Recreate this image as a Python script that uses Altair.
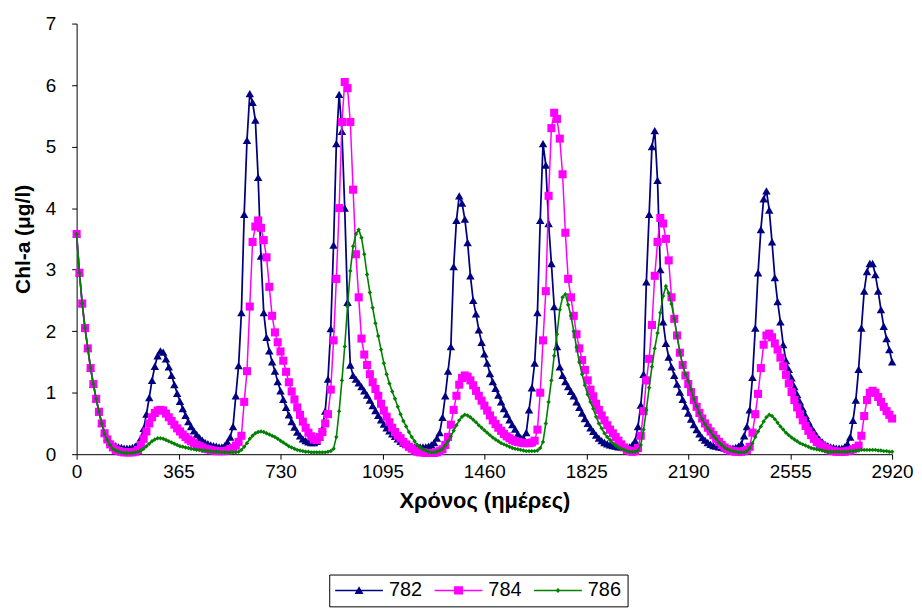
import altair as alt
import pandas as pd

# sampling grid of the read-off values (every 10 days)
DAYS = list(range(0, 2921, 10))

S782 = [
    3.58, 2.95, 2.45, 2.05, 1.72, 1.40, 1.14, 0.90, 0.69, 0.50,
    0.36, 0.27, 0.20, 0.16, 0.14, 0.12, 0.11, 0.10, 0.10, 0.10,
    0.11, 0.13, 0.17, 0.26, 0.42, 0.65, 0.92, 1.20, 1.43, 1.60,
    1.68, 1.66, 1.55, 1.42, 1.28, 1.13, 0.99, 0.86, 0.74, 0.63,
    0.53, 0.45, 0.38, 0.32, 0.27, 0.23, 0.19, 0.17, 0.15, 0.14,
    0.13, 0.12, 0.12, 0.14, 0.20, 0.28, 0.45, 0.95, 1.44, 2.30,
    3.90, 5.10, 5.86, 5.72, 5.43, 4.50, 3.22, 2.30, 1.90, 1.68,
    1.50, 1.35, 1.18, 1.03, 0.89, 0.76, 0.64, 0.53, 0.44, 0.36,
    0.30, 0.25, 0.22, 0.20, 0.19, 0.19, 0.21, 0.28, 0.42, 0.70,
    1.22, 2.04, 3.40, 5.05, 5.85, 5.25, 4.00, 2.47, 1.45, 1.28,
    1.22, 1.16, 1.10, 1.03, 0.96, 0.88, 0.79, 0.71, 0.63, 0.56,
    0.49, 0.43, 0.38, 0.33, 0.29, 0.25, 0.21, 0.18, 0.16, 0.14,
    0.13, 0.12, 0.12, 0.12, 0.12, 0.12, 0.13, 0.15, 0.19, 0.26,
    0.35, 0.60, 0.95, 1.35, 1.75, 3.05, 3.80, 4.20, 4.08, 3.82,
    3.44, 2.90, 2.50, 2.28, 2.02, 1.82, 1.63, 1.48, 1.31, 1.18,
    1.07, 0.96, 0.85, 0.74, 0.65, 0.56, 0.48, 0.41, 0.33, 0.27,
    0.26, 0.35, 0.72, 1.08, 1.48, 2.30, 3.80, 5.05, 4.70, 3.75,
    3.10, 2.40, 1.75, 1.42, 1.28, 1.18, 1.10, 1.02, 0.95, 0.85,
    0.76, 0.67, 0.58, 0.50, 0.43, 0.37, 0.31, 0.26, 0.22, 0.19,
    0.17, 0.15, 0.14, 0.13, 0.12, 0.12, 0.11, 0.11, 0.12, 0.15,
    0.22, 0.45, 0.80, 1.30, 2.80, 3.90, 5.00, 5.26, 4.45, 3.00,
    2.15, 1.80, 1.58, 1.42, 1.28, 1.14, 1.01, 0.89, 0.78, 0.67,
    0.57, 0.48, 0.40, 0.33, 0.27, 0.23, 0.19, 0.16, 0.14, 0.13,
    0.12, 0.11, 0.10, 0.10, 0.10, 0.10, 0.11, 0.13, 0.17, 0.30,
    0.45, 0.72, 1.25, 2.05, 2.95, 3.65, 4.15, 4.28, 3.97, 3.45,
    2.87, 2.48, 2.15, 1.78, 1.52, 1.38, 1.24, 1.10, 0.97, 0.85,
    0.74, 0.63, 0.53, 0.44, 0.37, 0.30, 0.24, 0.20, 0.16, 0.14,
    0.12, 0.11, 0.10, 0.10, 0.10, 0.12, 0.17, 0.28, 0.55, 0.88,
    1.38, 2.05, 2.65, 2.97, 3.10, 3.10, 2.92, 2.65, 2.35, 2.08,
    1.88, 1.70, 1.50,
]

S784 = [
    3.58, 2.95, 2.45, 2.05, 1.72, 1.40, 1.14, 0.90, 0.69, 0.50,
    0.34, 0.24, 0.16, 0.11, 0.07, 0.05, 0.04, 0.03, 0.03, 0.03,
    0.03, 0.04, 0.07, 0.15, 0.25, 0.37, 0.50, 0.60, 0.67, 0.71,
    0.72, 0.71, 0.66, 0.60, 0.54, 0.48, 0.42, 0.37, 0.32, 0.28,
    0.24, 0.21, 0.18, 0.15, 0.13, 0.11, 0.09, 0.08, 0.07, 0.06,
    0.05, 0.05, 0.05, 0.05, 0.06, 0.08, 0.10, 0.14, 0.20, 0.30,
    0.85, 1.35, 2.40, 3.45, 3.70, 3.80, 3.68, 3.48, 3.20, 2.72,
    2.25, 1.98, 1.82, 1.67, 1.52, 1.34, 1.17, 1.02, 0.89, 0.76,
    0.64, 0.53, 0.43, 0.35, 0.29, 0.24, 0.23, 0.28, 0.36, 0.50,
    0.65, 1.05, 1.85, 2.85, 4.00, 5.40, 6.05, 5.95, 5.40, 4.30,
    3.25, 2.55, 1.88, 1.62, 1.45, 1.30, 1.17, 1.06, 0.95, 0.82,
    0.71, 0.61, 0.52, 0.43, 0.36, 0.30, 0.26, 0.20, 0.16, 0.12,
    0.09, 0.06, 0.04, 0.03, 0.03, 0.02, 0.02, 0.02, 0.02, 0.03,
    0.05, 0.08, 0.15, 0.28, 0.48, 0.72, 0.95, 1.13, 1.24, 1.28,
    1.26, 1.20, 1.12, 1.03, 0.95, 0.87, 0.79, 0.71, 0.63, 0.55,
    0.49, 0.43, 0.38, 0.33, 0.29, 0.26, 0.23, 0.21, 0.20, 0.19,
    0.18, 0.18, 0.18, 0.19, 0.22, 0.40, 1.00, 1.85, 2.65, 4.20,
    5.30, 5.55, 5.45, 5.13, 4.55, 3.60, 2.85, 2.55, 2.25, 1.95,
    1.72, 1.53, 1.37, 1.20, 1.05, 0.94, 0.82, 0.72, 0.63, 0.55,
    0.47, 0.40, 0.34, 0.28, 0.22, 0.16, 0.11, 0.07, 0.05, 0.04,
    0.05, 0.10, 0.30, 0.70, 1.20, 1.55, 2.10, 2.90, 3.45, 3.84,
    3.75, 3.50, 3.15, 2.55, 2.20, 1.93, 1.65, 1.45, 1.28, 1.14,
    1.01, 0.88, 0.77, 0.67, 0.58, 0.50, 0.43, 0.37, 0.31, 0.25,
    0.20, 0.15, 0.11, 0.08, 0.06, 0.05, 0.04, 0.04, 0.04, 0.05,
    0.07, 0.12, 0.35, 0.65, 0.98, 1.40, 1.78, 1.93, 1.96, 1.90,
    1.80, 1.70, 1.57, 1.43, 1.29, 1.15, 1.01, 0.88, 0.76, 0.65,
    0.55, 0.46, 0.38, 0.31, 0.25, 0.20, 0.16, 0.13, 0.10, 0.08,
    0.06, 0.05, 0.04, 0.04, 0.04, 0.04, 0.05, 0.06, 0.08, 0.10,
    0.14, 0.30, 0.62, 0.88, 1.00, 1.03, 1.00, 0.93, 0.85, 0.77,
    0.70, 0.64, 0.58,
]

S786 = [
    3.58, 2.95, 2.45, 2.05, 1.72, 1.40, 1.14, 0.90, 0.69, 0.50,
    0.33, 0.23, 0.15, 0.09, 0.06, 0.04, 0.03, 0.02, 0.02, 0.02,
    0.02, 0.03, 0.04, 0.06, 0.09, 0.13, 0.17, 0.21, 0.24, 0.26,
    0.26, 0.25, 0.23, 0.21, 0.19, 0.17, 0.15, 0.13, 0.12, 0.11,
    0.10, 0.09, 0.08, 0.07, 0.07, 0.06, 0.06, 0.05, 0.05, 0.04,
    0.04, 0.04, 0.03, 0.03, 0.03, 0.03, 0.03, 0.03, 0.04, 0.07,
    0.12, 0.18, 0.25, 0.30, 0.34, 0.36, 0.37, 0.36, 0.34, 0.32,
    0.30, 0.28, 0.25, 0.22, 0.19, 0.16, 0.13, 0.11, 0.09, 0.07,
    0.06, 0.05, 0.04, 0.04, 0.03, 0.03, 0.03, 0.03, 0.03, 0.03,
    0.04, 0.05, 0.09, 0.28, 0.70, 1.20, 1.75, 2.40, 2.98, 3.38,
    3.58, 3.65, 3.52, 3.25, 2.92, 2.63, 2.38, 2.13, 1.92, 1.70,
    1.48, 1.30, 1.15, 1.02, 0.90, 0.77, 0.65, 0.54, 0.45, 0.36,
    0.28, 0.21, 0.15, 0.11, 0.08, 0.06, 0.04, 0.03, 0.03, 0.04,
    0.06, 0.09, 0.14, 0.21, 0.29, 0.38, 0.47, 0.55, 0.61, 0.64,
    0.63, 0.60, 0.56, 0.52, 0.47, 0.43, 0.39, 0.35, 0.31, 0.27,
    0.24, 0.21, 0.18, 0.16, 0.14, 0.12, 0.10, 0.09, 0.08, 0.07,
    0.06, 0.05, 0.05, 0.05, 0.05, 0.06, 0.10, 0.20, 0.50, 0.85,
    1.20, 1.60, 1.95, 2.35, 2.55, 2.60, 2.43, 2.25, 2.00, 1.74,
    1.50, 1.30, 1.12, 0.97, 0.85, 0.74, 0.61, 0.50, 0.42, 0.34,
    0.28, 0.23, 0.18, 0.14, 0.11, 0.09, 0.07, 0.05, 0.04, 0.04,
    0.04, 0.06, 0.15, 0.40, 0.72, 1.08, 1.42, 1.72, 1.97, 2.30,
    2.57, 2.73, 2.62, 2.44, 2.20, 1.92, 1.66, 1.45, 1.30, 1.20,
    1.05, 0.90, 0.78, 0.67, 0.57, 0.49, 0.42, 0.37, 0.30, 0.25,
    0.19, 0.15, 0.11, 0.08, 0.06, 0.05, 0.04, 0.03, 0.03, 0.03,
    0.05, 0.10, 0.18, 0.28, 0.37, 0.45, 0.53, 0.60, 0.64, 0.62,
    0.57, 0.51, 0.45, 0.40, 0.35, 0.31, 0.27, 0.24, 0.21, 0.18,
    0.16, 0.14, 0.12, 0.10, 0.09, 0.08, 0.07, 0.06, 0.05, 0.04,
    0.04, 0.04, 0.04, 0.04, 0.04, 0.04, 0.04, 0.05, 0.05, 0.06,
    0.06, 0.07, 0.07, 0.07, 0.07, 0.07, 0.07, 0.06, 0.06, 0.05,
    0.05, 0.04, 0.04,
]

SERIES = ["782", "784", "786"]
COLORS = ["#000080", "#FF00FF", "#008000"]
X_TICKS = [0, 365, 730, 1095, 1460, 1825, 2190, 2555, 2920]
Y_TICKS = [0, 1, 2, 3, 4, 5, 6, 7]

assert len(S782) == len(S784) == len(S786) == len(DAYS)

df = pd.DataFrame({
    "day": DAYS * 3,
    "value": S782 + S784 + S786,
    "series": [SERIES[0]] * len(DAYS) + [SERIES[1]] * len(DAYS) + [SERIES[2]] * len(DAYS),
})

FONT = "Liberation Sans"

x_enc = alt.X(
    "day:Q",
    scale=alt.Scale(domain=[0, 2920], nice=False, zero=False),
    axis=alt.Axis(values=X_TICKS, title="Χρόνος (ημέρες)", format="d",
                  labelPadding=3, titlePadding=10, labelFlush=False,
                  labelOverlap=False, labelAngle=0, titleFontSize=22),
)
y_enc = alt.Y(
    "value:Q",
    scale=alt.Scale(domain=[0, 7], nice=False),
    axis=alt.Axis(values=Y_TICKS, title="Chl-a (μg/l)", format="d",
                  labelPadding=16, titlePadding=12, titleFontSize=21),
)

base = alt.Chart(df)

marker_shapes = ["triangle-up", "square", "diamond"]
marker_sizes = [72, 66, 20]
line_widths = [1.75, 1.5, 1.6]

layers = []
for s, c, shp, sz, lw in zip(SERIES, COLORS, marker_shapes, marker_sizes, line_widths):
    sub = base.transform_filter(alt.datum.series == s)
    layers.append(sub.mark_line(color=c, strokeWidth=lw).encode(x=x_enc, y=y_enc))
    layers.append(sub.mark_point(shape=shp, filled=True, size=sz, color=c, opacity=1)
                  .encode(x=x_enc, y=y_enc))

# legend symbols: line segment with the series marker in the middle
LEGEND_PATHS = [
    "M-1,-0.07H3.8V0.07H-1Z M1.4,-0.42L1.85,0.36L0.95,0.36Z",
    "M-1,-0.07H3.8V0.07H-1Z M0.95,-0.42H1.85V0.42H0.95Z",
    "M-1,-0.07H3.8V0.07H-1Z M1.4,-0.25L1.65,0L1.4,0.25L1.15,0Z",
]

leg_props = dict(title=None, orient="none", legendX=254, legendY=554,
                 direction="horizontal", symbolSize=400, symbolStrokeWidth=0,
                 symbolOpacity=1, labelOffset=34, columnPadding=12,
                 padding=6, strokeColor="black", fillColor="white",
                 labelFontSize=20, labelFont=FONT, labelColor="black")

legend_layer = base.transform_filter(alt.datum.day == 0).mark_point(
    filled=True, size=400, opacity=0
).encode(
    x=x_enc, y=y_enc,
    color=alt.Color("series:N", scale=alt.Scale(domain=SERIES, range=COLORS),
                    legend=alt.Legend(**leg_props)),
    shape=alt.Shape("series:N", scale=alt.Scale(domain=SERIES, range=LEGEND_PATHS),
                    legend=alt.Legend(**leg_props)),
)
layers.append(legend_layer)

chart = alt.layer(*layers).properties(
    width=820, height=433,
    autosize=alt.AutoSizeParams(type="none"),
    padding={"left": 69, "top": 14, "right": 22, "bottom": 155},
    background="white",
).configure_view(stroke=None).configure_axis(
    labelFont=FONT, labelFontSize=19, labelColor="black",
    titleFont=FONT, titleFontWeight="bold", titleColor="black",
    domainColor="black", tickColor="black", tickSize=5, grid=False,
)

chart.save("out.html", embed_options={"renderer": "svg", "actions": False})
